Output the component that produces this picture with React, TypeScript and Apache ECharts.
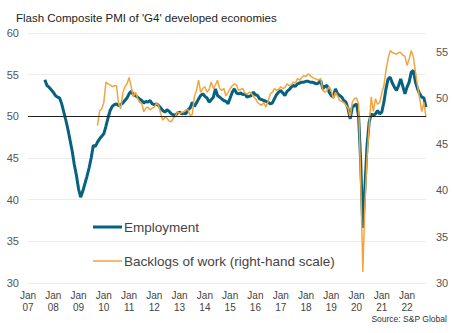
import React, { useEffect, useRef } from "react";
import * as echarts from "echarts";

const START_YEAR = 2007;
const N_MONTHS = 190; // Jan 2007 .. Oct 2022
const months: string[] = [];
for (let i = 0; i < N_MONTHS; i++) {
  const y = START_YEAR + Math.floor(i / 12);
  const m = (i % 12) + 1;
  months.push(`${y}-${m < 10 ? "0" + m : m}`);
}

// Employment (left-hand scale), from Sep 2007
const employment: (number | null)[] = [
  null, null, null, null, null, null, null, null,
  54.4, 53.7, 53.5, 53.2,
  52.9, 52.5, 52.3, 52.2, 51.5, 50.5, 49.5, 48.4, 47.1, 45.8, 44.2, 42.9,
  41.3, 40.3, 41.0, 41.9, 42.8, 43.8, 45.0, 46.5, 46.4, 46.9, 47.3, 47.6,
  47.9, 48.8, 49.8, 50.7, 51.2, 51.4, 51.5, 51.3, 51.4, 51.6, 51.9, 52.2,
  52.7, 53.0, 52.6, 52.5, 52.3, 52.1, 51.9, 51.6, 51.8, 51.7, 51.9, 51.5,
  51.4, 51.5, 51.3, 51.0, 50.7, 50.5, 50.8, 50.6, 50.3, 50.2, 50.1, 50.4,
  50.5, 50.3, 50.4, 50.3, 50.8, 51.0, 51.7, 51.2, 51.6, 52.1, 52.5, 52.7,
  52.4, 52.2, 51.7, 52.0, 52.3, 53.3, 52.5, 52.3, 52.1, 51.9, 51.8, 51.5,
  52.2, 52.9, 53.3, 52.8, 52.7, 52.8, 52.6, 52.7, 52.3, 52.4, 52.5, 52.9,
  52.6, 52.5, 52.1, 52.0, 51.9, 51.8, 51.7, 51.5, 51.6, 52.1, 52.6, 52.9,
  53.1, 52.8, 52.5, 53.0, 53.2, 53.5, 53.7, 53.6, 53.9, 54.0, 54.1, 54.1,
  54.2, 54.2, 54.1, 54.1, 54.0, 53.9, 54.0, 54.3, 53.3, 53.6, 53.7, 52.9,
  52.5, 52.3, 53.3, 52.7, 52.5, 52.3, 51.9, 51.7, 50.9, 49.7, 51.1, 51.3,
  51.5, 50.0, 44.5, 36.6, 41.5, 46.5, 49.3, 50.3, 50.1, 50.3, 50.7, 50.3,
  50.5, 51.7, 53.3, 54.5, 54.7, 54.0, 53.5, 53.1, 53.7, 54.5, 53.6, 52.7,
  53.5, 54.1, 55.3, 55.5, 54.1, 53.3, 52.7, 52.3, 52.2, 51.1,
];

// Backlogs of work (right-hand scale), from Oct 2009
const backlogs: (number | null)[] = [
  null, null, null, null, null, null, null, null, null, null, null, null,
  null, null, null, null, null, null, null, null, null, null, null, null,
  null, null, null, null, null, null, null, null, null, 47.0, 48.6, 48.8,
  49.5, 51.7, 51.5, 51.4, 51.2, 51.3, 51.3, 49.4, 48.8, 50.5, 51.2, 51.5,
  52.2, 51.2, 50.1, 50.6, 50.0, 49.5, 49.4, 48.5, 48.9, 49.0, 48.7, 48.9,
  49.0, 49.4, 49.2, 48.3, 47.6, 47.9, 47.8, 47.5, 47.4, 47.8, 48.0, 48.5,
  48.3, 48.4, 48.5, 48.7, 48.7, 48.1, 48.2, 50.1, 50.8, 51.9, 50.6, 51.0,
  51.2, 50.6, 50.9, 51.7, 51.0, 51.4, 51.9, 51.0, 50.8, 51.0, 50.2, 50.6,
  51.0, 51.3, 51.5, 51.4, 50.8, 50.9, 51.0, 50.5, 50.4, 50.6, 50.5, 50.2,
  49.9, 49.5, 49.3, 49.2, 49.5, 49.0, 49.6, 50.4, 50.6, 51.0, 50.8, 50.9,
  51.2, 51.0, 51.1, 51.5, 51.3, 51.4, 51.7, 51.6, 52.1, 51.9, 52.2, 52.4,
  52.3, 52.6, 52.4, 52.2, 52.1, 52.0, 51.9, 52.1, 50.8, 50.6, 50.8, 51.2,
  50.8, 49.9, 50.6, 50.2, 49.7, 49.6, 49.5, 49.2, 48.9, 47.9, 49.5, 49.9,
  50.0, 49.3, 41.0, 31.2, 38.5, 43.5, 47.0, 50.1, 48.5, 49.9, 49.3, 49.5,
  50.5, 51.3, 53.0, 54.2, 55.1, 54.9, 54.8, 54.7, 54.9, 54.9, 54.6, 54.5,
  53.5, 54.2, 55.1, 54.4, 52.8, 51.3, 49.9, 48.5, 49.5, 47.9,
];

const seriesNames = ["Employment", "Backlogs of work (right-hand scale)"];
const leftTicks = { min: 30, max: 60, interval: 5 };
const rightTicks = { min: 30, max: 57, interval: 5 };
const referenceLevel = 50;

const TEAL = "#07627f";
const ORANGE = "#f2a53f";
const FONT = "'Liberation Sans', Arial, sans-serif";

export default function App() {
  const ref = useRef<HTMLDivElement>(null);
  useEffect(() => {
    document.body.style.margin = "0";
    document.body.style.overflow = "hidden";
    if (!ref.current) return;
    const chart = echarts.init(ref.current, undefined, { renderer: "svg" });
    chart.setOption({
      animation: false,
      backgroundColor: "#ffffff",
      textStyle: { fontFamily: FONT },
      title: {
        text: "Flash Composite PMI of 'G4' developed economies",
        left: 11,
        top: 7,
        textStyle: { fontSize: 11.5, fontWeight: "normal", color: "#222", fontFamily: FONT },
      },
      grid: { left: 28, right: 27, top: 33, bottom: 50, containLabel: false },
      xAxis: {
        type: "category",
        data: months,
        boundaryGap: false,
        axisLine: { show: false },
        axisTick: { show: false },
        axisLabel: {
          interval: (i: number) => i % 12 === 0,
          formatter: (v: string) => "Jan\n" + v.slice(2, 4),
          fontSize: 10,
          lineHeight: 12,
          color: "#444",
          margin: 6,
          fontFamily: FONT,
        },
        splitLine: { show: false },
      },
      yAxis: [
        {
          type: "value",
          ...leftTicks,
          axisLine: { show: false },
          axisTick: { show: false },
          axisLabel: { fontSize: 11, color: "#555", margin: 9, fontFamily: FONT },
          splitLine: { show: true, lineStyle: { color: "#ececec", width: 1 } },
        },
        {
          type: "value",
          ...rightTicks,
          position: "right",
          axisLine: { show: false },
          axisTick: { show: false },
          axisLabel: { fontSize: 11, color: "#555", margin: 10, showMaxLabel: false, fontFamily: FONT },
          splitLine: { show: false },
        },
      ],
      series: [
        {
          name: seriesNames[0],
          type: "line",
          data: employment,
          yAxisIndex: 0,
          symbol: "none",
          showSymbol: false,
          connectNulls: false,
          lineStyle: { color: TEAL, width: 3 },
          itemStyle: { color: TEAL },
          z: 2,
          markLine: {
            silent: true,
            symbol: "none",
            label: { show: false },
            lineStyle: { color: "#222", width: 1, type: "solid" },
            data: [{ yAxis: referenceLevel }],
          },
        },
        {
          name: seriesNames[1],
          type: "line",
          data: backlogs,
          yAxisIndex: 1,
          symbol: "none",
          showSymbol: false,
          connectNulls: false,
          lineStyle: { color: ORANGE, width: 1.5 },
          itemStyle: { color: ORANGE },
          z: 3,
        },
      ],
      graphic: [
        {
          type: "line",
          shape: { x1: 93, y1: 227, x2: 122, y2: 227 },
          style: { stroke: TEAL, lineWidth: 3 },
        },
        {
          type: "text",
          x: 124,
          y: 227,
          style: { text: seriesNames[0], fontSize: 13.5, fill: "#444", fontFamily: FONT, verticalAlign: "middle" },
        },
        {
          type: "line",
          shape: { x1: 93, y1: 261, x2: 122, y2: 261 },
          style: { stroke: ORANGE, lineWidth: 1.5 },
        },
        {
          type: "text",
          x: 124,
          y: 261,
          style: { text: seriesNames[1], fontSize: 13.5, fill: "#444", fontFamily: FONT, verticalAlign: "middle" },
        },
        {
          type: "text",
          right: 6,
          top: 314,
          style: { text: "Source: S&P Global", fontSize: 8.5, fill: "#333", fontFamily: FONT },
        },
      ],
    });
    return () => chart.dispose();
  }, []);
  return <div ref={ref} style={{ width: 453, height: 333 }} />;
}
